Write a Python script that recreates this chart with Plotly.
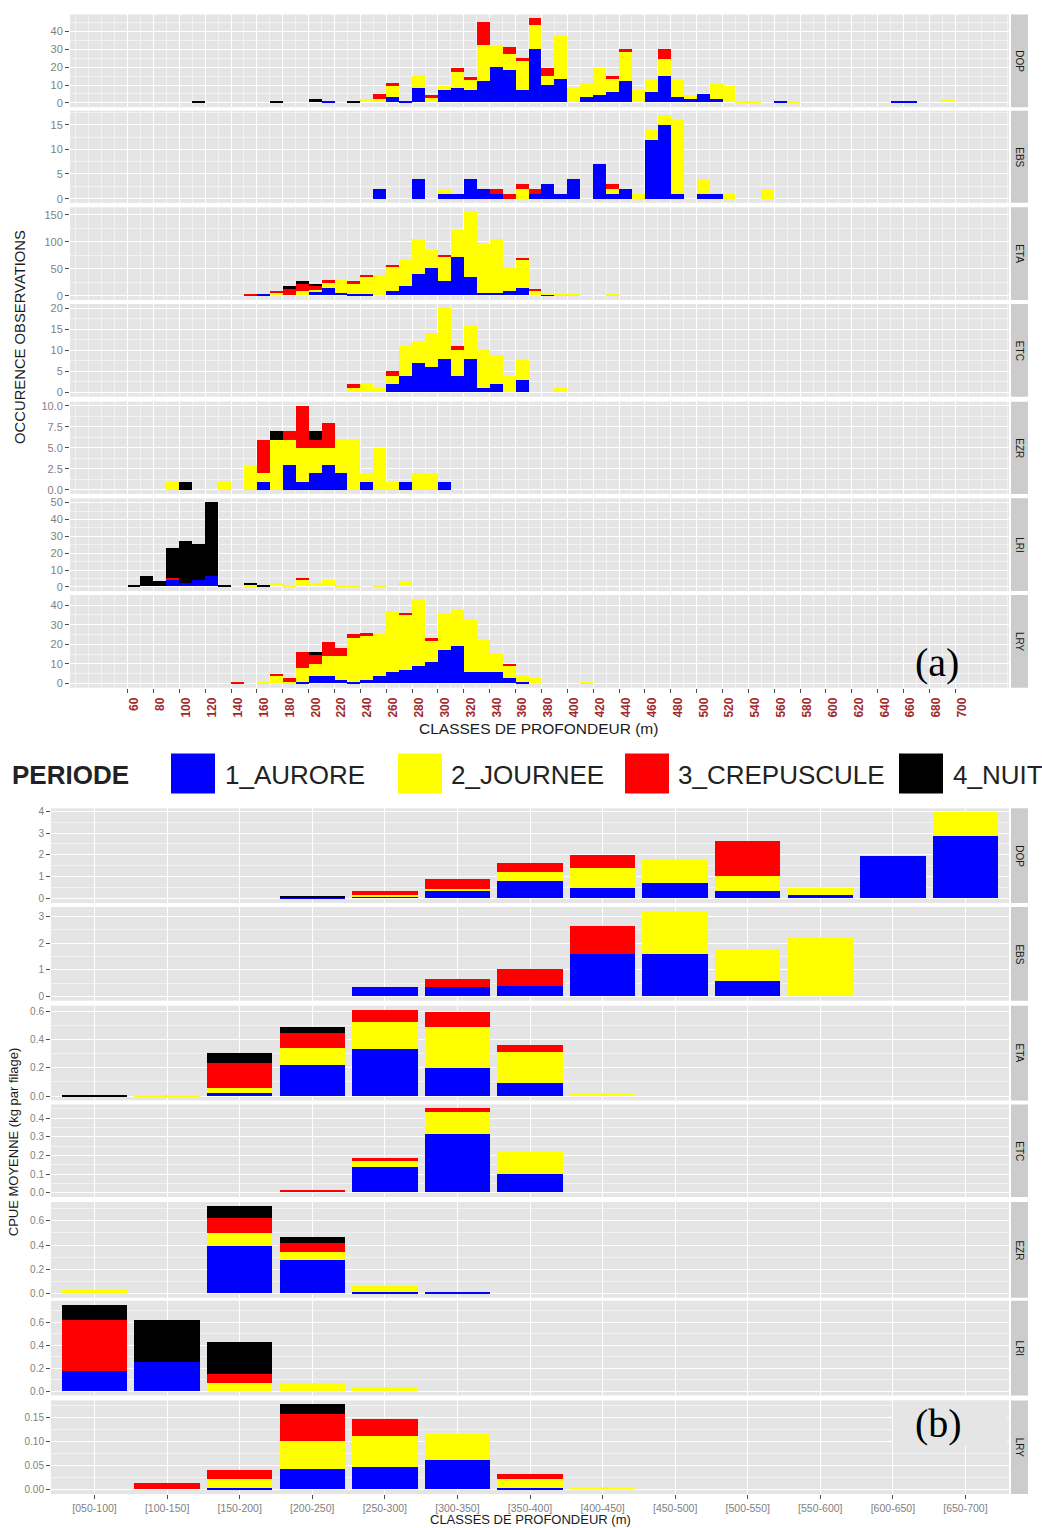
import plotly.graph_objects as go

W, H = 1042, 1528

PERIODES = ["1_AURORE", "2_JOURNEE", "3_CREPUSCULE", "4_NUIT"]
COULEURS = ["#0000FF", "#FFFF00", "#FF0000", "#000000"]
ESPECES = ["DOP", "EBS", "ETA", "ETC", "EZR", "LRI", "LRY"]

# ---------------- (a) occurrences per 10 m depth class (lower bound, m) ----------------
DOP_CLASSES = [110, 170, 200, 210, 230, 240, 250, 260, 270, 280, 290, 300, 310, 320, 330, 340, 350, 360, 370, 380,
               390, 400, 410, 420, 430, 440, 450, 460, 470, 480, 490, 500, 510, 520, 530, 540, 560, 570, 650, 660, 690]
DOP_AURORE = [0, 0, 0, 1, 0, 0, 0, 3, 1, 8, 0, 7, 8, 7, 12, 20, 18, 7, 30, 10,
              13, 0, 3, 4, 6, 12, 0, 6, 15, 3, 2, 5, 2, 0, 0, 0, 1, 0, 1, 1, 0]
DOP_JOURNEE = [0, 0, 0, 0, 0, 2, 2, 6, 0, 7, 3, 2, 9, 6, 20, 12, 9, 16, 13, 5,
               24, 8, 8, 15, 7, 16, 7, 7, 9, 10, 2, 0, 9, 9, 1, 1, 0, 1, 0, 0, 2]
DOP_CREPUSCULE = [0, 0, 0, 0, 0, 0, 3, 2, 0, 0, 1, 0, 2, 1, 13, 0, 4, 2, 4, 4,
                  0, 0, 0, 0, 2, 2, 0, 0, 6, 0, 0, 0, 0, 0, 0, 0, 0, 0, 0, 0, 0]
DOP_NUIT = [1, 1, 2, 0, 1, 0, 0, 0, 0, 0, 0, 0, 0, 0, 0, 0, 0, 0, 0, 0,
            0, 0, 0, 0, 0, 0, 0, 0, 0, 0, 0, 0, 0, 0, 0, 0, 0, 0, 0, 0, 0]

EBS_CLASSES = [250, 280, 300, 310, 320, 330, 340, 350, 360, 370, 380, 390, 400, 420, 430, 440, 450, 460, 470, 480,
               500, 510, 520, 550]
EBS_AURORE = [2, 4, 1, 1, 4, 2, 1, 0, 0, 1, 3, 1, 4, 7, 1, 2, 0, 12, 15, 1, 1, 1, 0, 0]
EBS_JOURNEE = [0, 0, 1, 0, 0, 0, 0, 0, 2, 0, 0, 0, 0, 0, 1, 0, 1, 2, 2, 15, 3, 0, 1, 2]
EBS_CREPUSCULE = [0, 0, 0, 0, 0, 0, 1, 1, 1, 1, 0, 0, 0, 0, 1, 0, 0, 0, 0, 0, 0, 0, 0, 0]
EBS_NUIT = [0, 0, 0, 0, 0, 0, 0, 0, 0, 0, 0, 0, 0, 0, 0, 0, 0, 0, 0, 0, 0, 0, 0, 0]

ETA_CLASSES = [150, 160, 170, 180, 190, 200, 210, 220, 230, 240, 250, 260, 270, 280, 290, 300, 310, 320, 330, 340,
               350, 360, 370, 380, 390, 400, 430]
ETA_AURORE = [0, 1, 0, 0, 0, 8, 13, 4, 2, 2, 0, 9, 17, 40, 50, 26, 72, 34, 5, 5, 8, 14, 0, 2, 0, 0, 0]
ETA_JOURNEE = [0, 0, 5, 0, 9, 2, 11, 24, 20, 33, 38, 45, 49, 64, 34, 46, 49, 122, 91, 100, 42, 53, 10, 3, 2, 2, 2]
ETA_CREPUSCULE = [2, 0, 4, 12, 13, 7, 5, 0, 5, 3, 0, 2, 0, 0, 0, 3, 0, 0, 0, 0, 0, 2, 2, 0, 0, 0, 0]
ETA_NUIT = [0, 0, 0, 6, 5, 5, 0, 0, 0, 0, 0, 0, 0, 0, 0, 0, 0, 0, 0, 0, 0, 0, 0, 0, 0, 0, 0]

ETC_CLASSES = [230, 240, 250, 260, 270, 280, 290, 300, 310, 320, 330, 340, 350, 360, 390]
ETC_AURORE = [0, 0, 0, 2, 4, 7, 6, 8, 4, 8, 1, 2, 0, 3, 0]
ETC_JOURNEE = [1, 2, 1, 2, 7, 5, 8, 12, 6, 8, 9, 7, 4, 5, 1]
ETC_CREPUSCULE = [1, 0, 0, 1, 0, 0, 0, 0, 1, 0, 0, 0, 0, 0, 0]
ETC_NUIT = [0, 0, 0, 0, 0, 0, 0, 0, 0, 0, 0, 0, 0, 0, 0]

EZR_CLASSES = [90, 100, 130, 150, 160, 170, 180, 190, 200, 210, 220, 230, 240, 250, 260, 270, 280, 290, 300]
EZR_AURORE = [0, 0, 0, 0, 1, 0, 3, 1, 2, 3, 2, 0, 1, 0, 0, 1, 0, 0, 1]
EZR_JOURNEE = [1, 0, 1, 3, 1, 6, 3, 4, 3, 2, 4, 6, 1, 5, 1, 0, 2, 2, 0]
EZR_CREPUSCULE = [0, 0, 0, 0, 4, 0, 1, 5, 1, 3, 0, 0, 0, 0, 0, 0, 0, 0, 0]
EZR_NUIT = [0, 1, 0, 0, 0, 1, 0, 0, 1, 0, 0, 0, 0, 0, 0, 0, 0, 0, 0]

LRI_CLASSES = [60, 70, 80, 90, 100, 110, 120, 130, 150, 160, 170, 180, 190, 200, 210, 220, 230, 250, 270]
LRI_AURORE = [0, 0, 0, 4, 2, 4, 6, 0, 0, 0, 0, 0, 0, 0, 0, 0, 0, 0, 0]
LRI_JOURNEE = [0, 0, 0, 0, 0, 0, 0, 0, 1, 0, 2, 1, 4, 2, 4, 1, 1, 1, 3]
LRI_CREPUSCULE = [0, 0, 0, 1, 0, 0, 0, 0, 0, 0, 0, 0, 1, 0, 0, 0, 0, 0, 0]
LRI_NUIT = [1, 6, 3, 18, 25, 21, 44, 1, 1, 1, 0, 0, 0, 0, 0, 0, 0, 0, 0]

LRY_CLASSES = [140, 160, 170, 180, 190, 200, 210, 220, 230, 240, 250, 260, 270, 280, 290, 300, 310, 320, 330, 340,
               350, 360, 370, 410]
LRY_AURORE = [0, 0, 0, 0, 1, 4, 4, 2, 1, 2, 4, 6, 7, 9, 11, 17, 19, 6, 6, 6, 3, 1, 0, 0]
LRY_JOURNEE = [0, 1, 4, 1, 7, 6, 10, 12, 22, 22, 21, 31, 28, 34, 11, 19, 19, 27, 16, 9, 6, 3, 3, 1]
LRY_CREPUSCULE = [1, 0, 1, 2, 8, 5, 7, 4, 2, 2, 0, 0, 1, 0, 1, 0, 0, 0, 0, 0, 1, 0, 0, 0]
LRY_NUIT = [0, 0, 0, 0, 0, 1, 0, 0, 0, 0, 0, 0, 0, 0, 0, 0, 0, 0, 0, 0, 0, 0, 0, 0]

OCC_TICKS = list(range(60, 701, 20))
OCC_YSTEP = [10, 5, 50, 5, 2.5, 10, 10]
OCC_YFMT = ["d", "d", "d", "d", ".1f", "d", "d"]

# ---------------- (b) mean CPUE per 50 m depth class ----------------
CLASSES_B = ["[050-100]", "[100-150]", "[150-200]", "[200-250]", "[250-300]", "[300-350]", "[350-400]",
             "[400-450]", "[450-500]", "[500-550]", "[550-600]", "[600-650]", "[650-700]"]

CPUE_DOP_AURORE = [0, 0, 0, 0.05, 0.10, 0.37, 0.78, 0.48, 0.69, 0.34, 0.16, 1.93, 2.87]
CPUE_DOP_JOURNEE = [0, 0, 0, 0, 0.05, 0.04, 0.44, 0.91, 1.10, 0.70, 0.30, 0, 1.06]
CPUE_DOP_CREPUSCULE = [0, 0, 0, 0, 0.18, 0.47, 0.38, 0.60, 0, 1.57, 0, 0, 0]
CPUE_DOP_NUIT = [0, 0, 0, 0.08, 0, 0, 0, 0, 0, 0, 0, 0, 0]

CPUE_EBS_AURORE = [0, 0, 0, 0, 0.34, 0.37, 0.40, 1.59, 1.59, 0.59, 0, 0, 0]
CPUE_EBS_JOURNEE = [0, 0, 0, 0, 0, 0, 0, 0, 1.61, 1.18, 2.24, 0, 0]
CPUE_EBS_CREPUSCULE = [0, 0, 0, 0, 0, 0.30, 0.64, 1.07, 0, 0, 0, 0, 0]
CPUE_EBS_NUIT = [0, 0, 0, 0, 0, 0, 0, 0, 0, 0, 0, 0, 0]

CPUE_ETA_AURORE = [0, 0, 0.025, 0.223, 0.333, 0.202, 0.097, 0, 0, 0, 0, 0, 0]
CPUE_ETA_JOURNEE = [0, 0.01, 0.032, 0.117, 0.191, 0.285, 0.218, 0.025, 0, 0, 0, 0, 0]
CPUE_ETA_CREPUSCULE = [0, 0, 0.18, 0.108, 0.083, 0.111, 0.044, 0, 0, 0, 0, 0, 0]
CPUE_ETA_NUIT = [0.012, 0, 0.069, 0.042, 0, 0, 0, 0, 0, 0, 0, 0, 0]

CPUE_ETC_AURORE = [0, 0, 0, 0, 0.136, 0.311, 0.099, 0, 0, 0, 0, 0, 0]
CPUE_ETC_JOURNEE = [0, 0, 0, 0, 0.034, 0.119, 0.117, 0, 0, 0, 0, 0, 0]
CPUE_ETC_CREPUSCULE = [0, 0, 0, 0.012, 0.012, 0.021, 0, 0, 0, 0, 0, 0, 0]
CPUE_ETC_NUIT = [0, 0, 0, 0, 0, 0, 0, 0, 0, 0, 0, 0, 0]

CPUE_EZR_AURORE = [0, 0, 0.393, 0.278, 0.01, 0.014, 0, 0, 0, 0, 0, 0, 0]
CPUE_EZR_JOURNEE = [0.025, 0, 0.105, 0.063, 0.05, 0, 0, 0, 0, 0, 0, 0, 0]
CPUE_EZR_CREPUSCULE = [0, 0, 0.127, 0.074, 0, 0, 0, 0, 0, 0, 0, 0, 0]
CPUE_EZR_NUIT = [0, 0, 0.095, 0.053, 0, 0, 0, 0, 0, 0, 0, 0, 0]

CPUE_LRI_AURORE = [0.18, 0.257, 0, 0, 0, 0, 0, 0, 0, 0, 0, 0, 0]
CPUE_LRI_JOURNEE = [0, 0, 0.071, 0.071, 0.037, 0, 0, 0, 0, 0, 0, 0, 0]
CPUE_LRI_CREPUSCULE = [0.443, 0, 0.083, 0, 0, 0, 0, 0, 0, 0, 0, 0, 0]
CPUE_LRI_NUIT = [0.128, 0.366, 0.275, 0, 0, 0, 0, 0, 0, 0, 0, 0, 0]

CPUE_LRY_AURORE = [0, 0, 0.004, 0.042, 0.047, 0.062, 0.004, 0, 0, 0, 0, 0, 0]
CPUE_LRY_JOURNEE = [0, 0, 0.018, 0.058, 0.065, 0.053, 0.018, 0.005, 0, 0, 0, 0, 0]
CPUE_LRY_CREPUSCULE = [0, 0.014, 0.019, 0.057, 0.035, 0, 0.011, 0, 0, 0, 0, 0, 0]
CPUE_LRY_NUIT = [0, 0, 0, 0.02, 0, 0, 0, 0, 0, 0, 0, 0, 0]

CPUE_YSTEP = [1, 1, 0.2, 0.1, 0.2, 0.2, 0.05]
CPUE_YFMT = ["d", "d", ".1f", ".1f", ".1f", ".1f", ".2f"]

OCC = {
    "DOP": (DOP_CLASSES, [DOP_AURORE, DOP_JOURNEE, DOP_CREPUSCULE, DOP_NUIT]),
    "EBS": (EBS_CLASSES, [EBS_AURORE, EBS_JOURNEE, EBS_CREPUSCULE, EBS_NUIT]),
    "ETA": (ETA_CLASSES, [ETA_AURORE, ETA_JOURNEE, ETA_CREPUSCULE, ETA_NUIT]),
    "ETC": (ETC_CLASSES, [ETC_AURORE, ETC_JOURNEE, ETC_CREPUSCULE, ETC_NUIT]),
    "EZR": (EZR_CLASSES, [EZR_AURORE, EZR_JOURNEE, EZR_CREPUSCULE, EZR_NUIT]),
    "LRI": (LRI_CLASSES, [LRI_AURORE, LRI_JOURNEE, LRI_CREPUSCULE, LRI_NUIT]),
    "LRY": (LRY_CLASSES, [LRY_AURORE, LRY_JOURNEE, LRY_CREPUSCULE, LRY_NUIT]),
}
CPUE = {
    "DOP": [CPUE_DOP_AURORE, CPUE_DOP_JOURNEE, CPUE_DOP_CREPUSCULE, CPUE_DOP_NUIT],
    "EBS": [CPUE_EBS_AURORE, CPUE_EBS_JOURNEE, CPUE_EBS_CREPUSCULE, CPUE_EBS_NUIT],
    "ETA": [CPUE_ETA_AURORE, CPUE_ETA_JOURNEE, CPUE_ETA_CREPUSCULE, CPUE_ETA_NUIT],
    "ETC": [CPUE_ETC_AURORE, CPUE_ETC_JOURNEE, CPUE_ETC_CREPUSCULE, CPUE_ETC_NUIT],
    "EZR": [CPUE_EZR_AURORE, CPUE_EZR_JOURNEE, CPUE_EZR_CREPUSCULE, CPUE_EZR_NUIT],
    "LRI": [CPUE_LRI_AURORE, CPUE_LRI_JOURNEE, CPUE_LRI_CREPUSCULE, CPUE_LRI_NUIT],
    "LRY": [CPUE_LRY_AURORE, CPUE_LRY_JOURNEE, CPUE_LRY_CREPUSCULE, CPUE_LRY_NUIT],
}

# ---------------- layout geometry (pixels) ----------------
FONT = "Liberation Sans, Arial, sans-serif"
SERIF = "Liberation Serif, Times New Roman, serif"
PANEL_BG = "#E5E5E5"
STRIP_BG = "#CCCCCC"
TOP_X = (70, 1009)
BOT_X = (51, 1009)
STRIP_X = (1011, 1028)
TOP_ROWS = [(11.5, 104.5), (108, 200.5), (205, 298), (302, 395), (400, 492.5), (497, 590), (594, 687)]
BOT_ROWS = [(808, 903), (907, 1001), (1006, 1101), (1105, 1198), (1203, 1299), (1302, 1397), (1402, 1496)]


def fx(px):
    return px / W


def fy(px):
    return 1 - px / H


def axis_name(kind, n):
    return kind + ("axis" if n == 1 else "axis%d" % n)


def ref(kind, n):
    return kind + ("" if n == 1 else str(n))


def label(text, x, y, size, color="#1A1A1A", family=FONT, angle=0, xanchor="center", **extra):
    d = dict(text=text, xref="paper", yref="paper", x=fx(x), y=fy(y), showarrow=False,
             xanchor=xanchor, yanchor="middle", textangle=angle,
             font=dict(family=family, size=size, color=color))
    d.update(extra)
    return d


fig = go.Figure()
layout = {}
shapes = []
annotations = []


def y_axis(n, rows, row, step, fmt, vmax, font_size):
    lo, hi = -0.05 * vmax, 1.05 * vmax
    return dict(
        domain=[fy(rows[row][1]), fy(rows[row][0])], anchor=ref("x", n), range=[lo, hi],
        tickmode="linear", tick0=0, dtick=step, tickformat=fmt,
        ticks="outside", ticklen=4, tickwidth=1, tickcolor="#4D4D4D",
        tickfont=dict(family=FONT, size=font_size, color="#7F7F7F"),
        showgrid=True, gridcolor="white", gridwidth=1.3,
        minor=dict(tickmode="linear", tick0=0, dtick=step / 2, showgrid=True,
                   gridcolor="#F3F3F3", gridwidth=0.7),
        zeroline=False, showline=False, fixedrange=True,
    )


# ---- (a) stacked occurrence histograms ----
for i, esp in enumerate(ESPECES):
    n = i + 1
    classes, series = OCC[esp]
    centres = [c + 5 for c in classes]
    totals = [sum(v) for v in zip(*series)]
    for p in range(4):
        fig.add_trace(go.Bar(
            x=centres, y=series[p], width=10, name=PERIODES[p],
            marker=dict(color=COULEURS[p], line=dict(width=0)),
            xaxis=ref("x", n), yaxis=ref("y", n), showlegend=False,
        ))
    bottom = i == len(ESPECES) - 1
    layout[axis_name("x", n)] = dict(
        domain=[fx(TOP_X[0]), fx(TOP_X[1])], anchor=ref("y", n), range=[15.5, 741.5],
        tickmode="array", tickvals=OCC_TICKS, ticktext=[str(v) for v in OCC_TICKS],
        showticklabels=bottom, ticks="outside" if bottom else "", ticklen=4, tickcolor="#4D4D4D",
        tickangle=-90, ticklabelshift=7,
        tickfont=dict(family=FONT, size=12, color="#A3282B", weight="bold"),
        showgrid=True, gridcolor="white", gridwidth=1.3,
        minor=dict(tickmode="linear", tick0=0, dtick=10, showgrid=True, gridcolor="#F3F3F3", gridwidth=0.7),
        zeroline=False, showline=False, fixedrange=True,
    )
    layout[axis_name("y", n)] = y_axis(n, TOP_ROWS, i, OCC_YSTEP[i], OCC_YFMT[i], max(totals), 11)

# ---- (b) stacked mean CPUE bars ----
idx = list(range(len(CLASSES_B)))
for i, esp in enumerate(ESPECES):
    n = i + 8
    series = CPUE[esp]
    totals = [sum(v) for v in zip(*series)]
    for p in range(4):
        fig.add_trace(go.Bar(
            x=idx, y=series[p], width=0.9, name=PERIODES[p],
            marker=dict(color=COULEURS[p], line=dict(width=0)),
            xaxis=ref("x", n), yaxis=ref("y", n), showlegend=False,
        ))
    bottom = i == len(ESPECES) - 1
    layout[axis_name("x", n)] = dict(
        domain=[fx(BOT_X[0]), fx(BOT_X[1])], anchor=ref("y", n), range=[-0.6, len(CLASSES_B) - 0.4],
        tickmode="array", tickvals=idx, ticktext=CLASSES_B,
        showticklabels=bottom, ticks="outside" if bottom else "", ticklen=4, tickcolor="#4D4D4D",
        tickfont=dict(family=FONT, size=10.5, color="#7F7F7F"),
        showgrid=True, gridcolor="white", gridwidth=1.3,
        zeroline=False, showline=False, fixedrange=True,
    )
    layout[axis_name("y", n)] = y_axis(n, BOT_ROWS, i, CPUE_YSTEP[i], CPUE_YFMT[i], max(totals), 10)

# ---- facet strips on the right ----
for rows in (TOP_ROWS, BOT_ROWS):
    for (top, bot), esp in zip(rows, ESPECES):
        shapes.append(dict(type="rect", xref="paper", yref="paper",
                           x0=fx(STRIP_X[0]), x1=fx(STRIP_X[1]), y0=fy(bot), y1=fy(top),
                           fillcolor=STRIP_BG, line=dict(width=0), layer="below"))
        annotations.append(label(esp, (STRIP_X[0] + STRIP_X[1]) / 2, (top + bot) / 2, 10, angle=90))

# ---- axis titles ----
annotations += [
    label("OCCURENCE OBSERVATIONS", 20, 335, 14.8, angle=-90),
    label("CLASSES DE PROFONDEUR (m)", 538, 728, 15.5),
    label("CPUE MOYENNE (kg par filage)", 13, 1143, 13, angle=-90),
    label("CLASSES DE PROFONDEUR (m)", 530, 1521, 13),
]

# ---- shared legend row ----
LEG_Y = (753, 793)
LEG_KEYS = [171, 398, 625, 899]
LEG_TEXT_X = [223, 449, 676, 951]
annotations.append(label("<b>PERIODE</b>", 10, 775, 26, color="#222222", xanchor="left"))
for k in range(4):
    shapes.append(dict(type="rect", xref="paper", yref="paper",
                       x0=fx(LEG_KEYS[k]), x1=fx(LEG_KEYS[k] + 44), y0=fy(LEG_Y[1]), y1=fy(LEG_Y[0]),
                       fillcolor=COULEURS[k], line=dict(width=0)))
    annotations.append(label(PERIODES[k], LEG_TEXT_X[k], 775, 26, color="#222222", xanchor="left"))

# ---- panel letters ----
shapes.append(dict(type="rect", xref="paper", yref="paper", x0=fx(893), x1=fx(1007), y0=fy(1448), y1=fy(1402),
                   fillcolor=PANEL_BG, line=dict(width=0), layer="above"))
annotations.append(label("(a)", 937, 662, 40, color="black", family=SERIF))
annotations.append(label("(b)", 938, 1425, 40, color="black", family=SERIF))

fig.update_layout(
    width=W, height=H, autosize=False,
    margin=dict(l=0, r=0, t=0, b=0),
    paper_bgcolor="white", plot_bgcolor=PANEL_BG,
    barmode="stack", bargap=0,
    showlegend=False,
    shapes=shapes, annotations=annotations,
    font=dict(family=FONT),
    **layout,
)

fig.write_html("out.html")
